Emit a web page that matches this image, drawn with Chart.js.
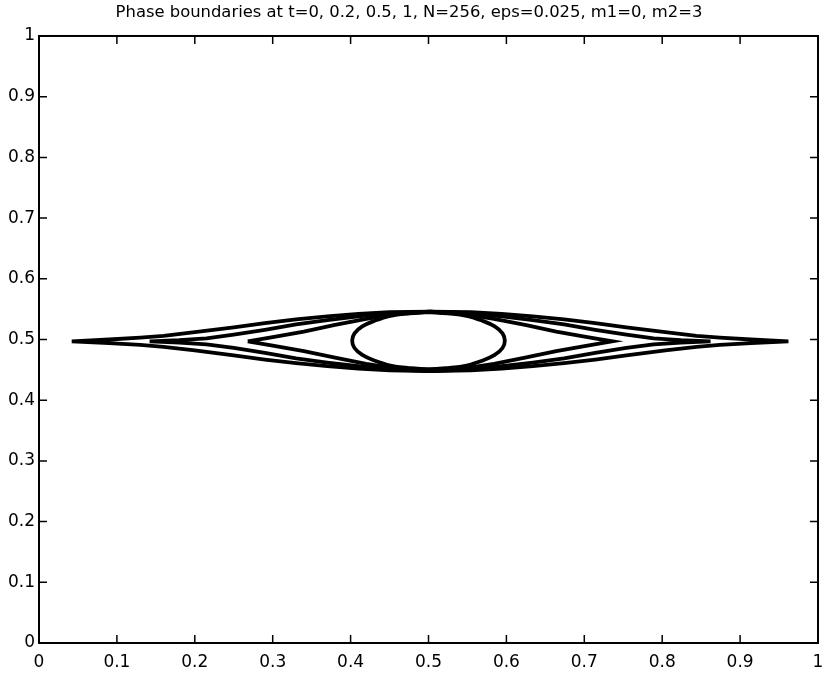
<!DOCTYPE html>
<html>
<head>
<meta charset="utf-8">
<script src="https://cdn.jsdelivr.net/npm/chart.js@4.4.1/dist/chart.umd.min.js"></script>
<style>
  html, body { margin: 0; padding: 0; background: #fff; }
  #wrap { width: 827px; height: 676px; }
</style>
</head>
<body>
<div id="wrap"><canvas id="phase"></canvas></div>
<script>
// tick values for both axes
const tickValues = [0, 0.1, 0.2, 0.3, 0.4, 0.5, 0.6, 0.7, 0.8, 0.9, 1];

// t = 0 : ellipse, listed clockwise starting at its top
const ellX = [0.5, 0.525, 0.549, 0.569, 0.585, 0.595, 0.598, 0.595, 0.585, 0.569, 0.549, 0.525, 0.5,
              0.475, 0.451, 0.431, 0.415, 0.405, 0.402, 0.405, 0.415, 0.431, 0.451, 0.475, 0.5];
const ellY = [0.545, 0.543, 0.539, 0.531, 0.5215, 0.510, 0.498, 0.486, 0.4745, 0.465, 0.457, 0.453, 0.451,
              0.453, 0.457, 0.465, 0.4745, 0.486, 0.498, 0.510, 0.5215, 0.531, 0.539, 0.543, 0.545];

// t = 0.2
const t02X = [0.268, 0.3, 0.34, 0.38, 0.42, 0.46, 0.502, 0.544, 0.584, 0.624, 0.664, 0.704, 0.736];
const t02Upper = [0.497, 0.504, 0.513, 0.524, 0.534, 0.542, 0.546, 0.542, 0.534, 0.524, 0.513, 0.504, 0.497];
const t02Lower = [0.497, 0.490, 0.481, 0.470, 0.460, 0.452, 0.448, 0.452, 0.460, 0.470, 0.481, 0.490, 0.497];

// t = 0.5
const t05X = [0.142, 0.18, 0.215, 0.25, 0.29, 0.33, 0.37, 0.41, 0.45, 0.502, 0.554, 0.594, 0.634, 0.674, 0.714, 0.754, 0.789, 0.824, 0.862];
const t05Upper = [0.497, 0.499, 0.502, 0.508, 0.516, 0.525, 0.532, 0.538, 0.543, 0.546, 0.543, 0.538, 0.532, 0.525, 0.516, 0.508, 0.502, 0.499, 0.497];
const t05Lower = [0.497, 0.495, 0.492, 0.486, 0.478, 0.469, 0.462, 0.456, 0.451, 0.448, 0.451, 0.456, 0.462, 0.469, 0.478, 0.486, 0.492, 0.495, 0.497];

// t = 1
const t1X = [0.042, 0.09, 0.13, 0.16, 0.2, 0.25, 0.29, 0.33, 0.37, 0.41, 0.45, 0.502, 0.554, 0.594, 0.634, 0.674, 0.714, 0.754, 0.804, 0.844, 0.874, 0.914, 0.962];
const t1Upper = [0.497, 0.500, 0.503, 0.506, 0.512, 0.520, 0.527, 0.533, 0.538, 0.542, 0.545, 0.546, 0.545, 0.542, 0.538, 0.533, 0.527, 0.520, 0.512, 0.506, 0.503, 0.500, 0.497];
const t1Lower = [0.497, 0.494, 0.491, 0.488, 0.482, 0.474, 0.467, 0.461, 0.456, 0.452, 0.449, 0.448, 0.449, 0.452, 0.456, 0.461, 0.467, 0.474, 0.482, 0.488, 0.491, 0.494, 0.497];

// upper branch left->right, then lower branch back right->left
function closedCurve(xs, up, lo) {
    const pts = [];
    for (let i = 0; i < xs.length; i++) pts.push({ x: xs[i], y: up[i] });
    for (let i = xs.length - 2; i >= 0; i--) pts.push({ x: xs[i], y: lo[i] });
    return pts;
}

function curve(label, pts, tension) {
    return {
        label: label,
        data: pts,
        showLine: true,
        borderColor: '#000',
        borderWidth: 3.8,
        pointRadius: 0,
        tension: tension,
        fill: false
    };
}

const FONT = "'DejaVu Sans', Arial, Helvetica, sans-serif";

// inward ticks on all four sides + box
const frameTicks = {
    id: 'frameTicks',
    afterDraw(chart) {
        const { ctx, chartArea: a, scales } = chart;
        ctx.save();
        ctx.strokeStyle = '#000';
        ctx.lineWidth = 1.5;
        ctx.beginPath();
        tickValues.forEach(v => {
            const px = scales.x.getPixelForValue(v);
            const py = scales.y.getPixelForValue(v);
            ctx.moveTo(px, a.bottom); ctx.lineTo(px, a.bottom - 8);
            ctx.moveTo(px, a.top); ctx.lineTo(px, a.top + 8);
            ctx.moveTo(a.left, py); ctx.lineTo(a.left + 8, py);
            ctx.moveTo(a.right, py); ctx.lineTo(a.right - 8, py);
        });
        ctx.stroke();
        ctx.lineWidth = 2;
        ctx.strokeRect(a.left, a.top, a.right - a.left, a.bottom - a.top);
        ctx.restore();
    }
};

new Chart(document.getElementById('phase'), {
    type: 'scatter',
    plugins: [frameTicks],
    data: {
        datasets: [
            curve('t=0', ellX.map((x, i) => ({ x: x, y: ellY[i] })), 0.4),
            curve('t=0.2', closedCurve(t02X, t02Upper, t02Lower), 0),
            curve('t=0.5', closedCurve(t05X, t05Upper, t05Lower), 0),
            curve('t=1', closedCurve(t1X, t1Upper, t1Lower), 0)
        ]
    },
    options: {
        responsive: true,
        maintainAspectRatio: false,
        animation: false,
        layout: { padding: { left: 0, right: 9, top: 0, bottom: 0 } },
        plugins: {
            legend: { display: false },
            tooltip: { enabled: false },
            title: {
                display: true,
                text: 'Phase boundaries at t=0, 0.2, 0.5, 1, N=256, eps=0.025, m1=0, m2=3',
                color: '#000',
                font: { family: FONT, size: 16.4, weight: 'normal', lineHeight: 1.2 },
                padding: { top: 2.5, bottom: 13.8 }
            }
        },
        scales: {
            x: {
                type: 'linear',
                min: 0, max: 1,
                afterFit: s => { s.height = 33; s.paddingLeft = 0; s.paddingRight = 0; },
                afterBuildTicks: s => { s.ticks = tickValues.map(v => ({ value: v })); },
                grid: { display: false, drawTicks: false },
                border: { display: false },
                ticks: {
                    color: '#000',
                    font: { family: FONT, size: 17 },
                    padding: 9,
                    maxRotation: 0,
                    callback: v => String(Math.round(v * 10) / 10)
                }
            },
            y: {
                type: 'linear',
                min: 0, max: 1,
                afterFit: s => { s.width = 39; s.paddingTop = 0; s.paddingBottom = 0; },
                afterBuildTicks: s => { s.ticks = tickValues.map(v => ({ value: v })); },
                grid: { display: false, drawTicks: false },
                border: { display: false },
                ticks: {
                    color: '#000',
                    font: { family: FONT, size: 17 },
                    padding: 4,
                    callback: v => String(Math.round(v * 10) / 10)
                }
            }
        }
    }
});
</script>
</body>
</html>
